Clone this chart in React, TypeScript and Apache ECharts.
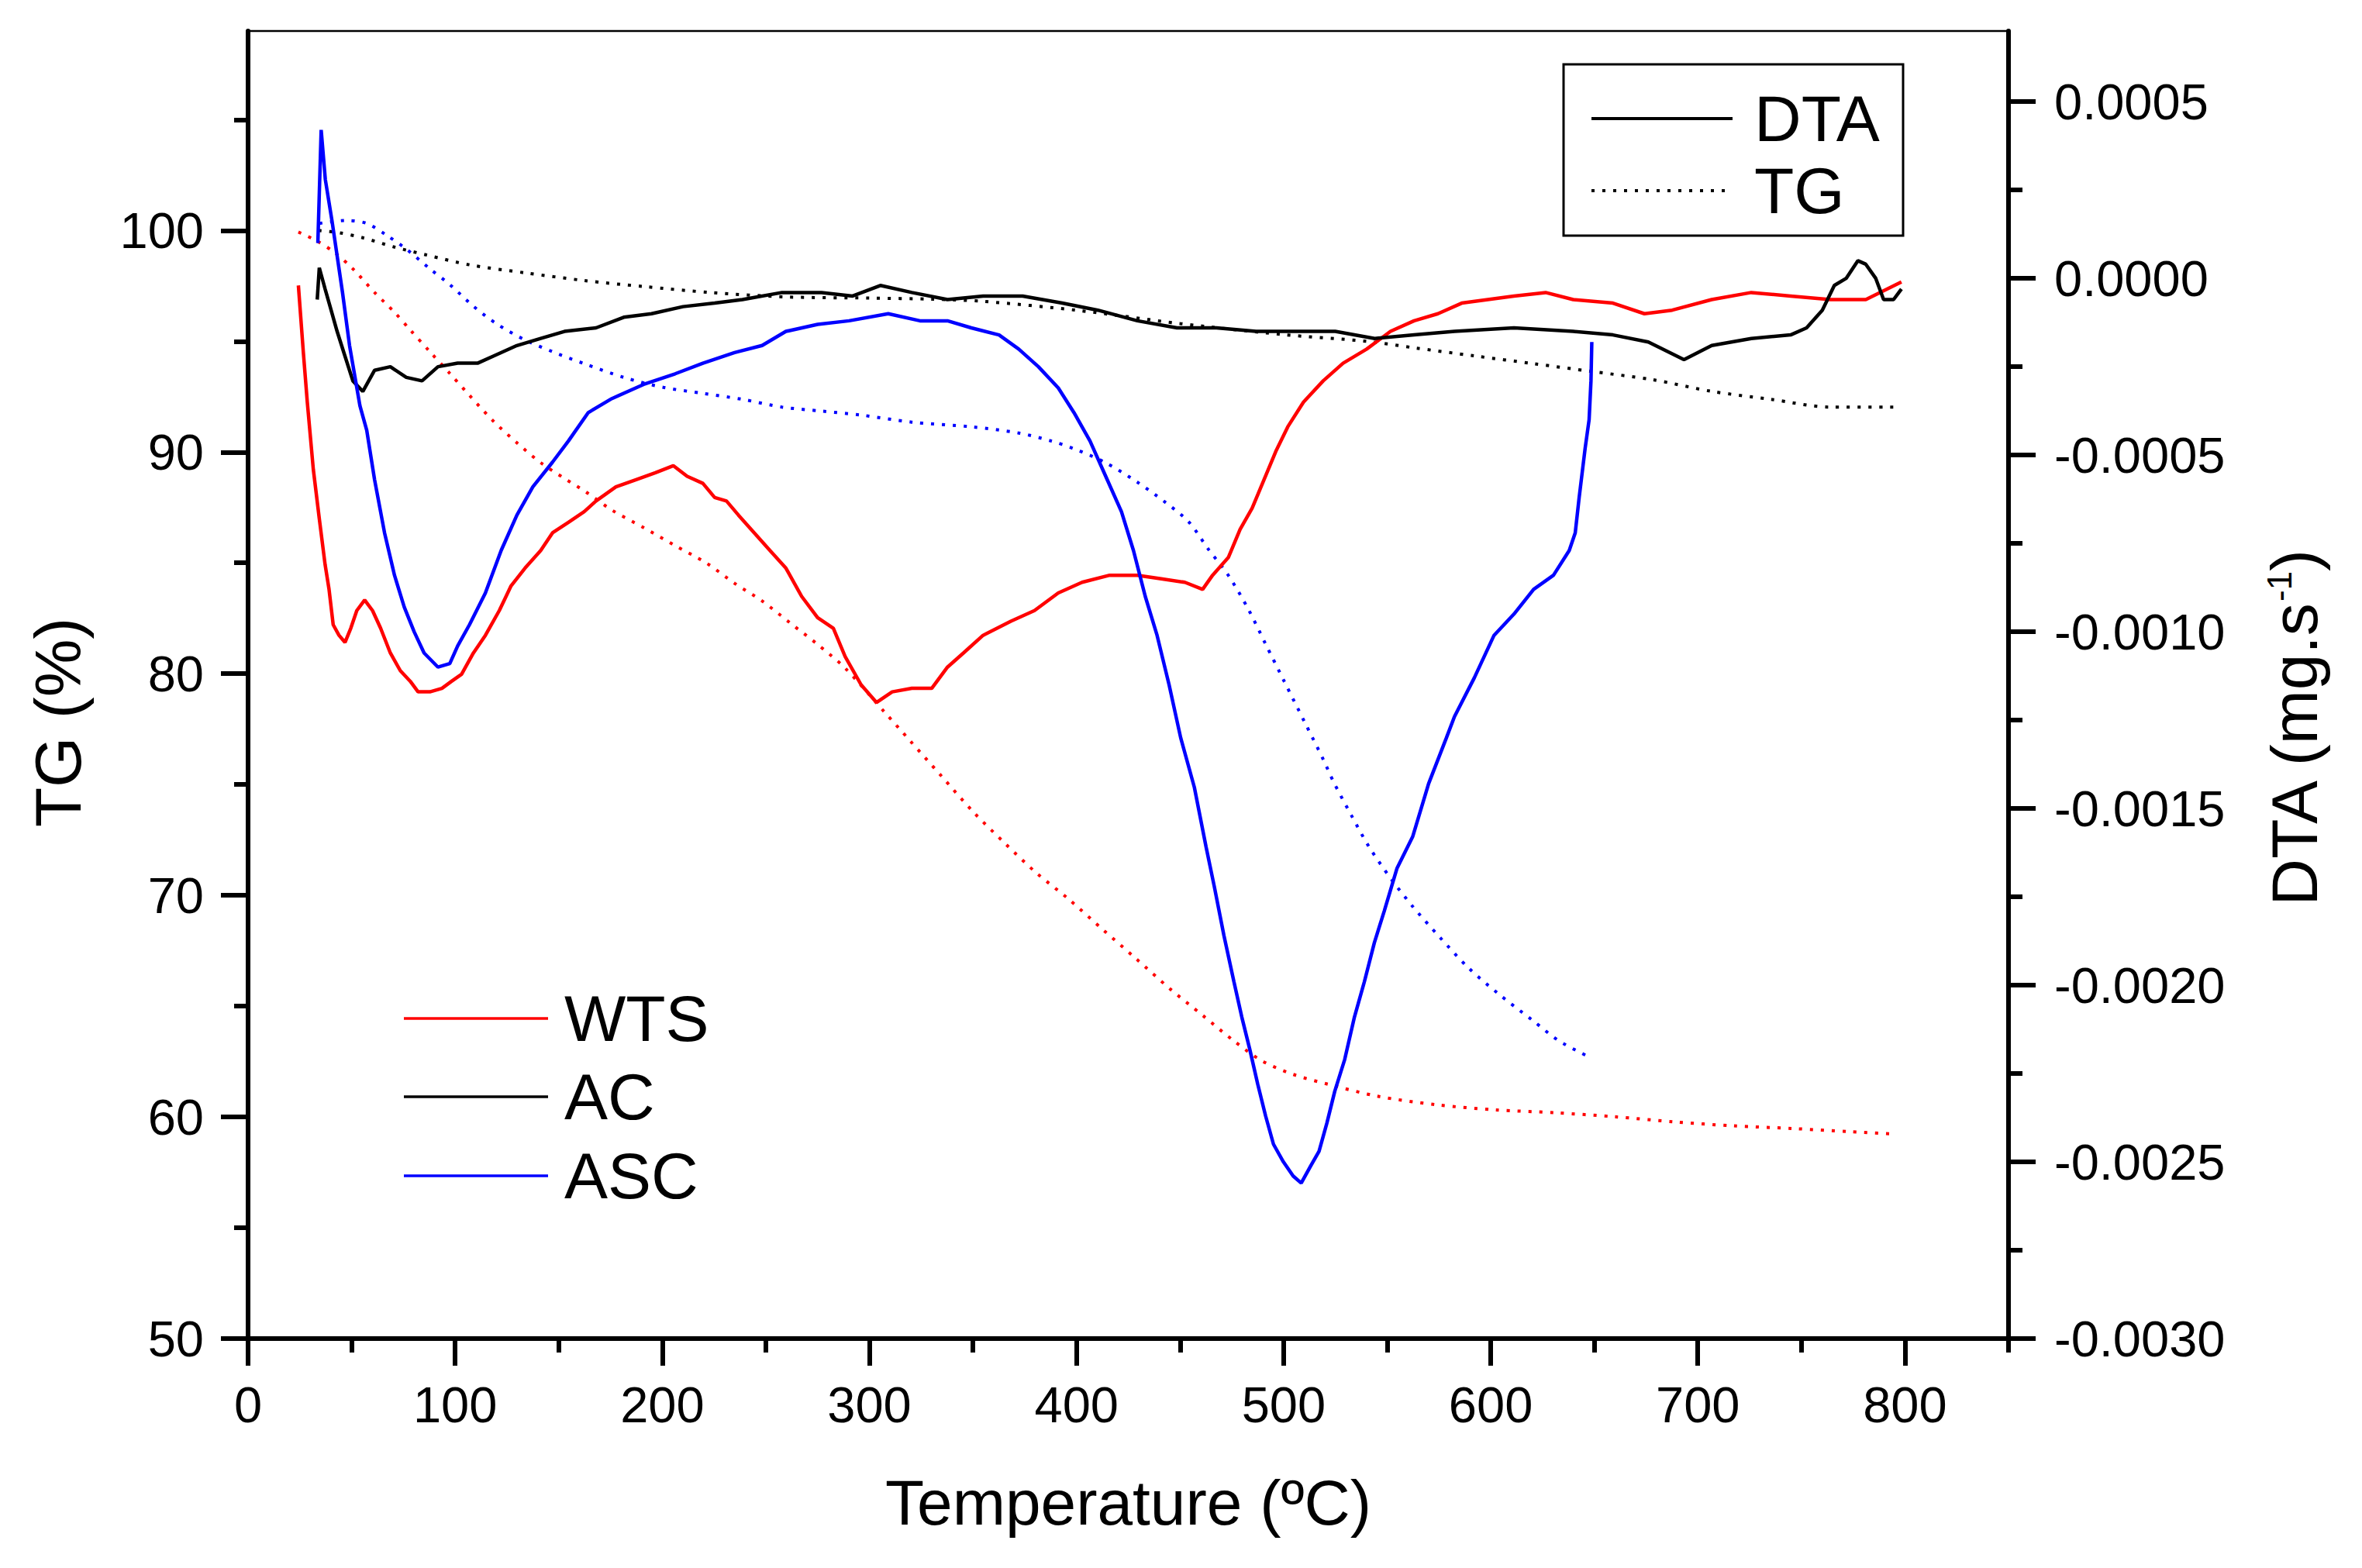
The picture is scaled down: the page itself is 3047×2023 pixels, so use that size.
import React, { useEffect, useRef } from "react";
import * as echarts from "echarts";

// ---------- data ----------
// DTA curves: [temperature °C, DTA mg/s]
const wtsDTA = [[24.3,-0.00002],[26.7,-0.00021],[28.6,-0.00035],[31.5,-0.00054],[34.4,-0.00068],[37.2,-0.00081],[39.1,-0.00088],[41.1,-0.00098],[43.9,-0.00101],[46.8,-0.00103],[49.6,-0.00099],[52.5,-0.00094],[56.3,-0.00091],[60.1,-0.00094],[64,-0.00099],[68.7,-0.00106],[73.5,-0.00111],[78.3,-0.00114],[82.1,-0.00117],[87.8,-0.00117],[93.6,-0.00116],[98.3,-0.00114],[103.1,-0.00112],[108.8,-0.00106],[114.6,-0.00101],[121.3,-0.00094],[127,-0.00087],[133.7,-0.00082],[141.3,-0.00077],[147,-0.00072],[154.7,-0.00069],[162.3,-0.00066],[168,-0.00063],[177.6,-0.00059],[187.1,-0.00057],[196.7,-0.00055],[205.3,-0.00053],[212,-0.00056],[219.6,-0.00058],[225.3,-0.00062],[231,-0.00063],[236.8,-0.00067],[244.4,-0.00072],[252,-0.00077],[259.7,-0.00082],[267.3,-0.0009],[275,-0.00096],[282.6,-0.00099],[288.3,-0.00107],[296,-0.00115],[303.4,-0.0012],[311,-0.00117],[320.5,-0.00116],[330.1,-0.00116],[337.7,-0.0011],[345.4,-0.00106],[354.9,-0.00101],[368.3,-0.00097],[379.7,-0.00094],[391.2,-0.00089],[402.7,-0.00086],[416,-0.00084],[429.4,-0.00084],[440.9,-0.00085],[452.3,-0.00086],[460.9,-0.00088],[465.7,-0.00084],[473.3,-0.00079],[479,-0.00071],[484.8,-0.00065],[490.5,-0.00057],[496.2,-0.00049],[502,-0.00042],[509.6,-0.00035],[519.1,-0.00029],[528.7,-0.00024],[540.1,-0.0002],[551.6,-0.00015],[563,-0.00012],[574.5,-0.0001],[586,-0.00007],[611.2,-0.00005],[626.5,-0.00004],[639.8,-0.00006],[659,-0.00007],[674.2,-0.0001],[687.6,-0.00009],[706.7,-0.00006],[725.8,-0.00004],[744.8,-0.00005],[764,-0.00006],[781.1,-0.00006],[798.3,-0.00001]];

const acDTA = [[33.4,-0.00006],[34.4,0.00003],[37.2,-0.00003],[40.1,-0.00009],[43,-0.00015],[46.8,-0.00022],[50.6,-0.00029],[55.4,-0.00032],[61.1,-0.00026],[68.7,-0.00025],[76.4,-0.00028],[84,-0.00029],[91.7,-0.00025],[101.2,-0.00024],[110.8,-0.00024],[118.4,-0.00022],[129.8,-0.00019],[141.3,-0.00017],[152.8,-0.00015],[168,-0.00014],[181.4,-0.00011],[194.8,-0.0001],[210,-0.00008],[225.3,-0.00007],[238.7,-0.00006],[257.8,-0.00004],[276.9,-0.00004],[291.9,-0.00005],[305.3,-0.00002],[320.5,-0.00004],[337.7,-0.00006],[354.9,-0.00005],[374,-0.00005],[393.1,-0.00007],[410.3,-0.00009],[429.4,-0.00012],[448.5,-0.00014],[467.6,-0.00014],[486.7,-0.00015],[505.8,-0.00015],[524.9,-0.00015],[544,-0.00017],[563,-0.00016],[582.5,-0.00015],[611.2,-0.00014],[639.8,-0.00015],[659,-0.00016],[676.1,-0.00018],[693.3,-0.00023],[706.7,-0.00019],[725.8,-0.00017],[744.8,-0.00016],[752.5,-0.00014],[760.1,-0.00009],[765.9,-0.00002],[771.6,0],[777.3,0.00005],[781.1,0.00004],[785.9,0],[789.7,-0.00006],[794.5,-0.00006],[798.3,-0.00003]];

const ascDTA = [[33.7,0.0001],[35.3,0.00042],[37.3,0.00028],[40.6,0.00016],[45.6,-0.00004],[49,-0.00019],[54,-0.00036],[57.3,-0.00043],[61.1,-0.00057],[65.9,-0.00072],[70.7,-0.00084],[75.4,-0.00093],[80.2,-0.001],[85,-0.00106],[91.7,-0.0011],[97.4,-0.00109],[101.2,-0.00104],[106.9,-0.00098],[114.6,-0.00089],[122.2,-0.00077],[129.8,-0.00067],[137.5,-0.00059],[147,-0.00052],[154.7,-0.00046],[164.2,-0.00038],[175.7,-0.00034],[191,-0.0003],[206.2,-0.00027],[219.6,-0.00024],[234.9,-0.00021],[248.2,-0.00019],[259.7,-0.00015],[275,-0.00013],[290.2,-0.00012],[309.1,-0.0001],[324.4,-0.00012],[337.7,-0.00012],[349.2,-0.00014],[362.6,-0.00016],[372.1,-0.0002],[381.6,-0.00025],[391.2,-0.00031],[398.8,-0.00038],[406.5,-0.00046],[414.1,-0.00056],[421.7,-0.00066],[427.5,-0.00077],[433.2,-0.0009],[438.9,-0.00101],[444.7,-0.00115],[450.3,-0.0013],[456.9,-0.00144],[462.6,-0.00161],[466.5,-0.00172],[471.2,-0.00186],[476,-0.00199],[479.8,-0.00209],[483.6,-0.00218],[487.5,-0.00228],[491.3,-0.00237],[495.1,-0.00245],[499.9,-0.0025],[504.6,-0.00254],[508.5,-0.00256],[513.2,-0.00251],[517.1,-0.00247],[520.9,-0.00239],[524.7,-0.0023],[529.5,-0.00221],[534.2,-0.00209],[539,-0.00199],[543.8,-0.00188],[548.6,-0.00179],[554.7,-0.00167],[562.3,-0.00158],[570,-0.00143],[578.6,-0.0013],[582.5,-0.00124],[592.1,-0.00113],[601.6,-0.00101],[611.2,-0.00095],[620.7,-0.00088],[630.3,-0.00084],[637.9,-0.00077],[640.8,-0.00072],[642.7,-0.00062],[645.6,-0.00048],[647.5,-0.0004],[648.4,-0.00029],[648.8,-0.00018]];

// TG curves: [temperature °C, mass %]
const wtsTG = [[24.3,99.93],[33.4,99.52],[42,98.99],[50.6,98.27],[61.1,97.2],[70.7,96.31],[78.3,95.51],[87.8,94.53],[97.4,93.55],[106.9,92.56],[118.4,91.4],[129.8,90.42],[141.3,89.52],[152.8,88.81],[163.3,88.19],[175.7,87.38],[191,86.59],[206.2,85.78],[221.5,84.98],[234.9,84.08],[248.2,83.28],[261.6,82.3],[275,81.32],[288.3,80.25],[307.2,78.28],[319.4,77.0],[334.7,75.39],[350,73.78],[365.3,72.36],[380.5,71.02],[395.8,69.86],[413,68.43],[428.3,67.18],[445.4,65.76],[460.7,64.6],[476,63.43],[489.4,62.54],[504.6,61.92],[521.8,61.47],[545.1,60.94],[573.8,60.55],[602.4,60.32],[631.1,60.19],[659.7,60.01],[688.4,59.78],[717,59.6],[745.6,59.48],[774.3,59.33],[792.4,59.24]];

const acTG = [[34,100],[43.9,99.9],[55.4,99.67],[70.7,99.25],[85.9,98.9],[106.9,98.45],[133.7,98.09],[162.3,97.74],[191,97.47],[223.4,97.2],[260,97.0],[300,96.95],[330,96.9],[355,96.8],[400,96.4],[450,95.8],[500,95.3],[540,95.0],[563.4,94.7],[592.1,94.34],[620.7,93.99],[649.4,93.63],[678,93.27],[706.7,92.74],[735.3,92.38],[764,92.03],[794.5,92.03]];

const ascTG = [[34.4,100.32],[47.7,100.45],[57.3,100.32],[66.8,99.79],[76.4,99.16],[87.8,98.27],[97.4,97.56],[108.8,96.58],[120.3,95.77],[133.7,95.06],[147,94.53],[162.3,93.99],[181.4,93.37],[200.5,92.92],[219.6,92.65],[238.7,92.38],[257.8,92.03],[276.9,91.85],[296,91.67],[320.5,91.35],[349.2,91.14],[372.1,90.86],[387.4,90.51],[398.8,90.15],[414.1,89.52],[429.4,88.64],[442.8,87.74],[454.2,86.85],[463.8,85.6],[473.3,84.44],[482.9,82.92],[491.4,81.32],[500,79.71],[510.5,77.75],[519.1,76.14],[524.1,75.12],[532.7,73.61],[541.3,72.18],[551.8,70.75],[562.3,69.5],[575.7,68.08],[589.1,66.74],[603.4,65.58],[620.6,64.33],[633,63.43],[647.9,62.69]];

// axis ticks
const xMajor = [0, 100, 200, 300, 400, 500, 600, 700, 800];
const xMinor = [50, 150, 250, 350, 450, 550, 650, 750, 850];
const tgMajor = [50, 60, 70, 80, 90, 100];
const tgMinor = [55, 65, 75, 85, 95, 105];
const dtaMajor = [-0.003, -0.0025, -0.002, -0.0015, -0.001, -0.0005, 0, 0.0005];
const dtaMinor = [-0.00275, -0.00225, -0.00175, -0.00125, -0.00075, -0.00025, 0.00025];

const samples = ["WTS", "AC", "ASC"];
const sampleColors = ["#ff0000", "#000000", "#0000ff"];

const FONT = "'Liberation Sans', Arial, Helvetica, sans-serif";

export default function App() {
  const ref = useRef<HTMLDivElement>(null);

  useEffect(() => {
    if (!ref.current) return;
    const chart = echarts.init(ref.current, null, { renderer: "svg" });

    const GL = 320, GT = 40, GR = 2591, GB = 1727;
    const axisLine = { show: true, onZero: false, lineStyle: { color: "#000", width: 6 } };
    const noLine = { show: false, onZero: false };
    const label = (margin: number) => ({
      color: "#000",
      fontSize: 65,
      fontFamily: FONT,
      margin,
    });

    const solid = (c: string) => ({ color: c, width: 4.5 });
    const dotted = (c: string) => ({ color: c, width: 4, type: [4, 10] as any });

    const dtaSets = [wtsDTA, acDTA, ascDTA];
    const tgSets = [wtsTG, acTG, ascTG];
    const series: any[] = [];
    samples.forEach((s, i) => {
      series.push({
        name: s + " TG",
        type: "line",
        xAxisIndex: 0,
        yAxisIndex: 0,
        data: tgSets[i],
        showSymbol: false,
        symbol: "none",
        smooth: 0.3,
        lineStyle: dotted(sampleColors[i]),
        silent: true,
      });
    });
    samples.forEach((s, i) => {
      series.push({
        name: s + " DTA",
        type: "line",
        xAxisIndex: 0,
        yAxisIndex: 1,
        data: dtaSets[i],
        showSymbol: false,
        symbol: "none",
        lineStyle: solid(sampleColors[i]),
        silent: true,
      });
    });

    const legendLines: any[] = [];
    const legY = [1314, 1415, 1517];
    samples.forEach((s, i) => {
      legendLines.push({
        type: "line",
        shape: { x1: 521, y1: legY[i], x2: 707, y2: legY[i] },
        style: { stroke: sampleColors[i], lineWidth: 3.5 },
      });
      legendLines.push({
        type: "text",
        x: 728,
        y: legY[i],
        style: {
          text: s,
          fontSize: 84,
          fontFamily: FONT,
          fill: "#000",
          align: "left",
          verticalAlign: "middle",
        },
      });
    });

    const option: any = {
      animation: false,
      backgroundColor: "#fff",
      grid: {
        left: GL,
        top: GT,
        width: GR - GL,
        height: GB - GT,
        show: true,
        borderColor: "#000",
        borderWidth: 2.5,
        backgroundColor: "transparent",
      },
      xAxis: [
        {
          type: "value",
          min: 0,
          max: 850,
          position: "bottom",
          axisLine,
          axisTick: { show: true, customValues: xMajor, length: 35, lineStyle: { width: 6, color: "#000" } },
          axisLabel: { ...label(53), customValues: xMajor },
          splitLine: { show: false },
          name: "Temperature (ºC)",
          nameLocation: "middle",
          nameGap: 170,
          nameTextStyle: { fontSize: 82, fontFamily: FONT, color: "#000" },
        },
        {
          type: "value",
          min: 0,
          max: 850,
          position: "bottom",
          axisLine: noLine,
          axisTick: { show: true, customValues: xMinor, length: 18, lineStyle: { width: 6, color: "#000" } },
          axisLabel: { show: false },
          splitLine: { show: false },
        },
      ],
      yAxis: [
        {
          type: "value",
          min: 50,
          max: 109,
          position: "left",
          axisLine,
          axisTick: { show: true, customValues: tgMajor, length: 35, lineStyle: { width: 6, color: "#000" } },
          axisLabel: { ...label(57), customValues: tgMajor },
          splitLine: { show: false },
        },
        {
          type: "value",
          min: -0.003,
          max: 0.0007,
          position: "right",
          axisLine,
          axisTick: { show: true, customValues: dtaMajor, length: 35, lineStyle: { width: 6, color: "#000" } },
          axisLabel: {
            ...label(59),
            customValues: dtaMajor,
            formatter: (v: number) => (Math.abs(v) < 1e-9 ? "0.0000" : v.toFixed(4)),
          },
          splitLine: { show: false },
        },
        {
          type: "value",
          min: 50,
          max: 109,
          position: "left",
          axisLine: noLine,
          axisTick: { show: true, customValues: tgMinor, length: 18, lineStyle: { width: 6, color: "#000" } },
          axisLabel: { show: false },
          splitLine: { show: false },
        },
        {
          type: "value",
          min: -0.003,
          max: 0.0007,
          position: "right",
          axisLine: noLine,
          axisTick: { show: true, customValues: dtaMinor, length: 18, lineStyle: { width: 6, color: "#000" } },
          axisLabel: { show: false },
          splitLine: { show: false },
        },
      ],
      series,
      graphic: [
        {
          type: "text",
          x: 75,
          y: 932,
          rotation: Math.PI / 2,
          style: {
            text: "TG (%)",
            fontSize: 84,
            fontFamily: FONT,
            fill: "#000",
            align: "center",
            verticalAlign: "middle",
          },
        },
        {
          type: "text",
          x: 2960,
          y: 940,
          rotation: Math.PI / 2,
          style: {
            text: "{a|DTA (mg.s}{b|-1}{a|)}",
            fill: "#000",
            align: "center",
            verticalAlign: "middle",
            rich: {
              a: { fontSize: 84, fontFamily: FONT, fill: "#000" },
              b: { fontSize: 44, fontFamily: FONT, fill: "#000", verticalAlign: "top" },
            },
          },
        },
        // top-right legend box
        {
          type: "rect",
          shape: { x: 2017, y: 83, width: 438, height: 221 },
          style: { fill: "#fff", stroke: "#000", lineWidth: 3 },
        },
        {
          type: "line",
          shape: { x1: 2053, y1: 153, x2: 2235, y2: 153 },
          style: { stroke: "#000", lineWidth: 4 },
        },
        {
          type: "line",
          shape: { x1: 2053, y1: 246, x2: 2235, y2: 246 },
          style: { stroke: "#000", lineWidth: 4, lineDash: [4, 10] },
        },
        {
          type: "text",
          x: 2263,
          y: 153,
          style: { text: "DTA", fontSize: 84, fontFamily: FONT, fill: "#000", align: "left", verticalAlign: "middle" },
        },
        {
          type: "text",
          x: 2263,
          y: 246,
          style: { text: "TG", fontSize: 84, fontFamily: FONT, fill: "#000", align: "left", verticalAlign: "middle" },
        },
        ...legendLines,
      ],
    };

    chart.setOption(option);
    return () => chart.dispose();
  }, []);

  return (
    <div
      ref={ref}
      style={{ position: "fixed", left: 0, top: 0, width: 3047, height: 2023, background: "#fff" }}
    />
  );
}
